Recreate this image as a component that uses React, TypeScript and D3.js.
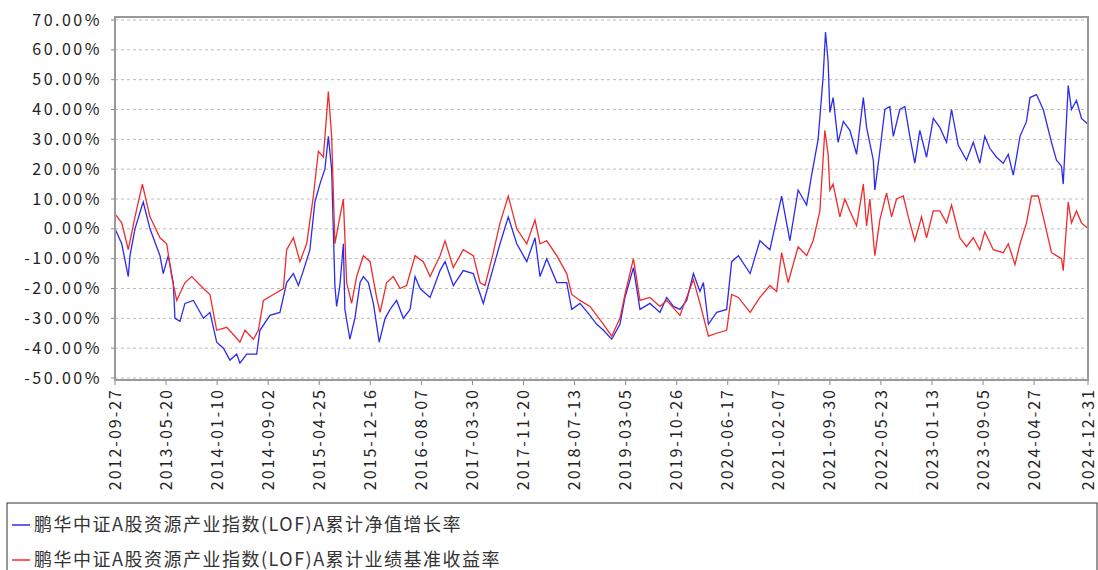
import React from "react";
import * as d3 from "d3";

const startDate = new Date(2012, 8, 27);

const tickLabels = [
  "2012-09-27", "2013-05-20", "2014-01-10", "2014-09-02", "2015-04-25",
  "2015-12-16", "2016-08-07", "2017-03-30", "2017-11-20", "2018-07-13",
  "2019-03-05", "2019-10-26", "2020-06-17", "2021-02-07", "2021-09-30",
  "2022-05-23", "2023-01-13", "2023-09-05", "2024-04-27", "2024-12-31",
];

const yTicks = [70, 60, 50, 40, 30, 20, 10, 0, -10, -20, -30, -40, -50];

// day offsets from 2012-09-27 and values (%)
const navDays = [
  0, 31, 61, 69, 92, 123, 130, 161, 207, 222, 245, 268, 276, 299, 322, 361, 407, 437, 468, 499,
  529, 560, 575, 606, 652, 667, 713, 759, 790, 821, 844, 867, 897, 920, 943, 966, 982, 997, 1012, 1020,
  1035, 1051, 1058, 1074, 1081, 1104, 1128, 1143, 1166, 1189, 1216, 1243, 1266, 1296, 1327, 1358, 1381, 1404, 1450, 1496,
  1519, 1557, 1603, 1649, 1672, 1695, 1741, 1772, 1810, 1849, 1895, 1933, 1956, 1987, 2033, 2079, 2102, 2140, 2186, 2217,
  2248, 2286, 2324, 2347, 2386, 2416, 2462, 2508, 2539, 2570, 2600, 2631, 2662, 2692, 2708, 2731, 2769, 2815, 2838, 2869,
  2923, 2968, 3014, 3068, 3106, 3144, 3183, 3206, 3236, 3259, 3270, 3282, 3290, 3305, 3328, 3352, 3382, 3413, 3444, 3459,
  3490, 3497, 3520, 3543, 3566, 3582, 3612, 3635, 3658, 3681, 3704, 3735, 3766, 3796, 3827, 3850, 3881, 3919, 3950, 3980,
  4003, 4026, 4057, 4088, 4111, 4134, 4149, 4165, 4195, 4211, 4241, 4272, 4310, 4333, 4356, 4364, 4387, 4402, 4425, 4448, 4479,
];
const navValues = [
  0, -5, -16, -9, 0, 7.5, 9, 0, -9, -15, -9, -18, -30, -31, -25, -24, -30, -28, -38, -40,
  -44, -42, -45, -42, -42, -34, -29, -28, -18, -15, -19, -14, -7, 9, 15, 20, 31, 20, -19, -26,
  -19, -5, -27, -34, -37, -30, -18, -16, -18, -25, -38, -30, -27, -24, -30, -27, -16, -20, -23, -14,
  -11, -19, -14, -15, -20, -25, -13, -5, 4, -5, -11, -3, -16, -10, -18, -18, -27, -25, -29, -32,
  -34, -37, -32, -23, -13, -27, -25, -28, -23, -26, -27, -24, -15, -21, -18, -32, -28, -27, -11, -9,
  -15, -4, -7, 11, -4, 13, 8, 18, 30, 51, 66, 56, 39, 44, 29, 36, 33, 25, 44, 34,
  23, 13, 26, 40, 41, 31, 40, 41, 31, 22, 33, 24, 37, 34, 29, 40, 28, 23, 29, 22,
  31, 27, 24, 22, 25, 18, 24, 31, 36, 44, 45, 40, 29, 23, 21, 15, 48, 40, 43, 37, 35,
];

const benchDays = [
  0, 31, 61, 92, 126, 161, 207, 238, 261, 284, 322, 353, 407, 437, 468, 514, 552, 575, 598, 637,
  660, 683, 729, 775, 790, 821, 851, 882, 913, 936, 959, 982, 997, 1012, 1035, 1051, 1066, 1089, 1112, 1143,
  1174, 1204, 1220, 1250, 1281, 1312, 1342, 1381, 1419, 1450, 1496, 1519, 1557, 1603, 1649, 1680, 1703, 1741, 1772, 1810,
  1849, 1895, 1933, 1956, 1987, 2033, 2079, 2102, 2140, 2186, 2217, 2248, 2286, 2324, 2347, 2386, 2416, 2462, 2508, 2539,
  2600, 2662, 2692, 2731, 2769, 2815, 2838, 2869, 2923, 2968, 3014, 3045, 3068, 3098, 3144, 3183, 3213, 3244, 3267, 3282,
  3290, 3305, 3336, 3359, 3382, 3413, 3444, 3459, 3474, 3497, 3520, 3551, 3574, 3597, 3628, 3651, 3681, 3712, 3735, 3766,
  3796, 3827, 3850, 3888, 3919, 3950, 3980, 4003, 4042, 4088, 4111, 4142, 4165, 4195, 4218, 4249, 4272, 4310, 4333, 4356,
  4364, 4387, 4402, 4425, 4448, 4479,
];
const benchValues = [
  5, 2, -7, 4, 15, 4, -3, -5, -16, -24, -18, -16, -20, -22, -34, -33, -36, -38, -34, -37,
  -34, -24, -22, -20, -7, -3, -11, -5, 11, 26, 24, 46, 31, -5, 4, 10, -18, -25, -16, -9,
  -11, -23, -28, -18, -16, -20, -19, -9, -11, -16, -9, -4, -13, -7, -9, -18, -19, -8, 2, 11,
  0, -5, 3, -5, -4, -9, -15, -22, -24, -26, -29, -32, -36, -30, -22, -10, -24, -23, -26, -24,
  -29, -17, -25, -36, -35, -34, -22, -23, -28, -23, -19, -21, -8, -18, -6, -9, -4, 6, 33, 25,
  13, 15, 4, 10, 6, 1, 15, 1, 10, -9, 3, 12, 4, 10, 11, 4, -4, 4, -3, 6,
  6, 2, 8, -3, -6, -3, -7, -1, -7, -8, -5, -12, -5, 2, 11, 11, 4, -8, -9, -10,
  -14, 9, 2, 6, 2, 0,
];

const legendNames = [
  "鹏华中证A股资源产业指数(LOF)A累计净值增长率",
  "鹏华中证A股资源产业指数(LOF)A累计业绩基准收益率",
];
const colors = ["#2b2bf0", "#f02b2b"];

const W = 1098, H = 570;
const left = 115, right = 1088, top = 17, bottom = 380;
const font = "'Noto Sans CJK SC', 'DejaVu Sans', sans-serif";

export default function App() {
  const endDate = new Date(2024, 11, 31);
  const x = d3.scaleTime().domain([startDate, endDate]).range([left, right]);
  const y = d3.scaleLinear().domain([-50, 70]).range([378, 20]);
  const line = d3
    .line<[number, number]>()
    .x((d) => x(d3.timeDay.offset(startDate, d[0])))
    .y((d) => y(d[1]));
  const series = [
    navDays.map((d, i) => [d, navValues[i]] as [number, number]),
    benchDays.map((d, i) => [d, benchValues[i]] as [number, number]),
  ];
  const parse = d3.timeParse("%Y-%m-%d");

  return (
    <svg width={W} height={H} style={{ position: "absolute", left: 0, top: 0, background: "#fff" }} fontFamily={font}>
      {yTicks.map((t) => (
        <g key={t}>
          <line x1={left} x2={right} y1={y(t)} y2={y(t)} stroke="#bbb" strokeDasharray="3,3" />
          <line x1={left - 4} x2={left} y1={y(t)} y2={y(t)} stroke="#888" />
          <text x={102} y={y(t)} dy="0.35em" textAnchor="end" fontSize={16} letterSpacing={2.5} fill="#222">
            {t.toFixed(2) + "%"}
          </text>
        </g>
      ))}
      {tickLabels.map((t) => {
        const tx = x(parse(t) as Date);
        return (
          <g key={t}>
            <line x1={tx} x2={tx} y1={bottom} y2={bottom + 5} stroke="#888" />
            <text
              transform={`translate(${tx},${bottom + 8}) rotate(-90)`}
              dy="0.35em"
              textAnchor="end"
              fontSize={16}
              letterSpacing={2}
              fill="#222"
            >
              {t}
            </text>
          </g>
        );
      })}
      {series.map((s, i) => (
        <path key={i} d={line(s) || ""} fill="none" stroke={colors[i]} strokeWidth={1.3} />
      ))}
      <rect x={left} y={top} width={right - left} height={bottom - top} fill="none" stroke="#999" strokeWidth={2} />
      <rect x={7} y={503} width={1090} height={75} fill="none" stroke="#333" />
      {legendNames.map((n, i) => (
        <g key={n}>
          <line x1={12} x2={30} y1={525 + i * 35} y2={525 + i * 35} stroke={colors[i]} strokeWidth={1.5} />
          <text x={34} y={525 + i * 35} dy="0.35em" fontSize={18} letterSpacing={1.5} fill="#333">
            {n}
          </text>
        </g>
      ))}
    </svg>
  );
}
